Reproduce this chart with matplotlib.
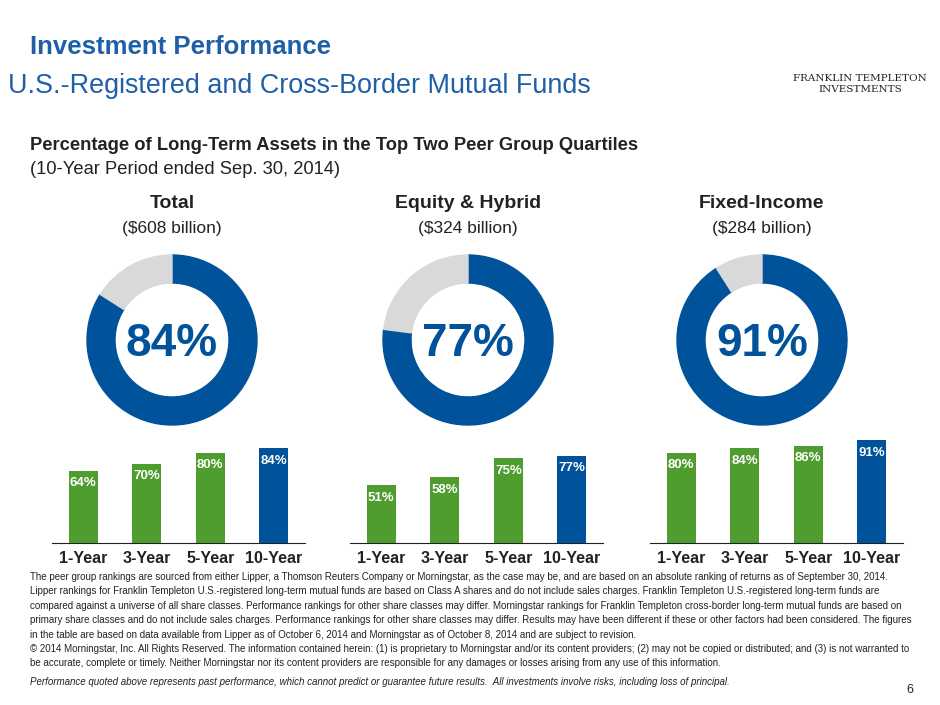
import matplotlib.pyplot as plt
from matplotlib.patches import Wedge

W, H = 940, 705
BLUE = '#00529b'
GREEN = '#4f9d2f'
GRAY = '#d9d9d9'
SANS = ['Liberation Sans', 'DejaVu Sans']

periods = ['1-Year', '3-Year', '5-Year', '10-Year']
panel_titles = ['Total', 'Equity & Hybrid', 'Fixed-Income']
panel_assets = ['($608 billion)', '($324 billion)', '($284 billion)']
donut_pct = [84, 77, 91]
bar_pct = [[64, 70, 80, 84], [51, 58, 75, 77], [80, 84, 86, 91]]

plt.rcParams['font.family'] = SANS
fig = plt.figure(figsize=(W / 100, H / 100), dpi=100)
fig.patch.set_facecolor('white')


def ax_px(x0, y0, x1, y1):
    # pixel box (top-left origin) -> figure axes
    return fig.add_axes([x0 / W, 1 - y1 / H, (x1 - x0) / W, (y1 - y0) / H])


def ftext(x, y, s, **kw):
    fig.text(x / W, 1 - y / H, s, **kw)


ftext(30, 47, 'Investment Performance', fontsize=18.5, fontweight='bold', color='#1f5fa8', va='center')
ftext(8, 86, 'U.S.-Registered and Cross-Border Mutual Funds', fontsize=19.4, color='#1f5fa8', va='center')
ftext(860, 84, 'FRANKLIN TEMPLETON\nINVESTMENTS', fontsize=7.5, family='DejaVu Serif',
      ha='center', va='center', color='#222222', linespacing=1.2)
ftext(30, 145, 'Percentage of Long-Term Assets in the Top Two Peer Group Quartiles',
      fontsize=13.2, fontweight='bold', color='#222222', va='center')
ftext(30, 170, '(10-Year Period ended Sep. 30, 2014)', fontsize=13.2, color='#222222', va='center')

centers = [172, 468, 762]
bar_x0 = [52, 350, 650]
for i in range(3):
    cx = centers[i]
    ftext(cx, 204, panel_titles[i], fontsize=14, fontweight='bold', ha='center', va='center', color='#222222')
    ftext(cx, 228, panel_assets[i], fontsize=12.5, ha='center', va='center', color='#222222')

    ax = ax_px(cx - 90, 250, cx + 90, 430)
    ax.set_xlim(-90, 90)
    ax.set_ylim(-90, 90)
    ax.set_aspect('equal')
    ax.axis('off')
    p = donut_pct[i]
    end = 90 - 360 * p / 100
    ax.add_patch(Wedge((0, 0), 85, end, 90, width=28, color=BLUE))
    ax.add_patch(Wedge((0, 0), 85, 90, end + 360, width=28, color=GRAY))
    ax.text(0, -4, f'{p}%', fontsize=33, fontweight='bold', color=BLUE, ha='center', va='center')

    bx = ax_px(bar_x0[i], 430, bar_x0[i] + 253, 543)
    cols = [GREEN, GREEN, GREEN, BLUE]
    xs = range(len(periods))
    bx.bar(xs, bar_pct[i], width=0.455, color=cols)
    for x, v in zip(xs, bar_pct[i]):
        bx.text(x, v - 11, f'{v}%', color='white', fontsize=9.5, fontweight='bold', ha='center',
                va='center')
    bx.set_xlim(-0.49, 3.49)
    bx.set_ylim(0, 100)
    for s in ['top', 'right', 'left']:
        bx.spines[s].set_visible(False)
    bx.spines['bottom'].set_color('#222222')
    bx.set_yticks([])
    bx.set_xticks(list(xs))
    bx.set_xticklabels(periods, fontsize=11.5, fontweight='bold', color='#222222')
    bx.tick_params(axis='x', length=0, pad=6)

foot = ("The peer group rankings are sourced from either Lipper, a Thomson Reuters Company or Morningstar, as the case may be, and are based on an absolute ranking of returns as of September 30, 2014.\n"
        "Lipper rankings for Franklin Templeton U.S.-registered long-term mutual funds are based on Class A shares and do not include sales charges. Franklin Templeton U.S.-registered long-term funds are\n"
        "compared against a universe of all share classes. Performance rankings for other share classes may differ. Morningstar rankings for Franklin Templeton cross-border long-term mutual funds are based on\n"
        "primary share classes and do not include sales charges. Performance rankings for other share classes may differ. Results may have been different if these or other factors had been considered. The figures\n"
        "in the table are based on data available from Lipper as of October 6, 2014 and Morningstar as of October 8, 2014 and are subject to revision.\n"
        "© 2014 Morningstar, Inc. All Rights Reserved. The information contained herein: (1) is proprietary to Morningstar and/or its content providers; (2) may not be copied or distributed; and (3) is not warranted to\n"
        "be accurate, complete or timely. Neither Morningstar nor its content providers are responsible for any damages or losses arising from any use of this information.")
ftext(30, 572, foot, fontsize=7.0, va='top', color='#222222', linespacing=1.55, family=SANS)
ftext(30, 682, 'Performance quoted above represents past performance, which cannot predict or guarantee future results.  All investments involve risks, including loss of principal.',
      fontsize=7.0, style='italic', va='center', color='#222222', family=SANS)
ftext(906, 690, '6', fontsize=9, va='center', color='#222222')

fig.savefig('out.png', dpi=100)
